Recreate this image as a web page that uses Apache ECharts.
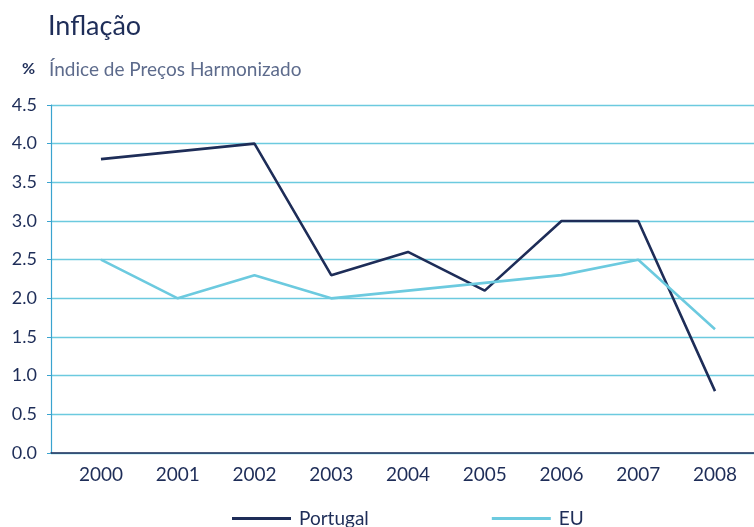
<!DOCTYPE html>
<html><head><meta charset="utf-8">
<script src="https://cdn.jsdelivr.net/npm/echarts@6/dist/echarts.min.js"></script>
<style>html,body{margin:0;padding:0;background:#fff}#c{width:754px;height:527px}</style>
</head><body><div id="c"></div>
<script>
const years = ['2000','2001','2002','2003','2004','2005','2006','2007','2008'];
const portugal = [3.8, 3.9, 4.0, 2.3, 2.6, 2.1, 3.0, 3.0, 0.8];
const eu = [2.5, 2.0, 2.3, 2.0, 2.1, 2.2, 2.3, 2.5, 1.6];

const FONT = 'Lato';
const NAVY = '#1e2d58';
const CYAN = '#6ccadf';
const chart = echarts.init(document.getElementById('c'));
chart.setOption({
  animation: false,
  textStyle: {fontFamily: FONT},
  title: [
    {text: 'Inflação', left: 48, top: 13, padding: 0, textStyle: {fontFamily: FONT, fontSize: 27, fontWeight: 'normal', color: NAVY}},
    {text: '%', left: 22, top: 61, padding: 0, textStyle: {fontFamily: FONT, fontSize: 16, fontWeight: 'bold', color: NAVY}},
    {text: 'Índice de Preços Harmonizado', left: 49, top: 60, padding: 0, textStyle: {fontFamily: FONT, fontSize: 19, fontWeight: 'normal', color: '#5d6b8c'}}
  ],
  legend: {
    left: 232, top: 509, padding: 0, itemWidth: 59, itemHeight: 3, itemGap: 123,
    icon: 'rect',
    textStyle: {fontFamily: FONT, fontSize: 19, color: NAVY, padding: [0,0,0,3]},
    data: ['Portugal', 'EU']
  },
  grid: {left: 51, right: 0, top: 105, bottom: 74, containLabel: false},
  xAxis: {
    type: 'value', min: -0.651, max: 8.508,
    splitLine: {show: false},
    axisLine: {show: true, lineStyle: {color: NAVY, width: 1.5}},
    axisTick: {show: false},
    axisLabel: {
      customValues: years.map((y, i) => i),
      formatter: v => years[Math.round(v)] || '',
      fontFamily: FONT, fontSize: 19, color: NAVY, margin: 12
    }
  },
  yAxis: {
    type: 'value', min: 0, max: 4.5, interval: 0.5,
    axisLine: {show: true, onZero: false, lineStyle: {color: '#3aa3cf', width: 1.2}},
    axisTick: {show: true, length: 4, lineStyle: {color: '#3aa3cf'}},
    splitLine: {show: true, lineStyle: {color: CYAN, width: 1.3}},
    axisLabel: {formatter: v => v.toFixed(1), fontFamily: FONT, fontSize: 18, color: NAVY, margin: 14}
  },
  series: [
    {name: 'Portugal', type: 'line', showSymbol: false, symbol: 'none',
     data: portugal.map((v, i) => [i, v]),
     lineStyle: {color: NAVY, width: 2.6}, itemStyle: {color: NAVY}},
    {name: 'EU', type: 'line', showSymbol: false, symbol: 'none',
     data: eu.map((v, i) => [i, v]),
     lineStyle: {color: CYAN, width: 2.6}, itemStyle: {color: CYAN}}
  ]
});
</script></body></html>
